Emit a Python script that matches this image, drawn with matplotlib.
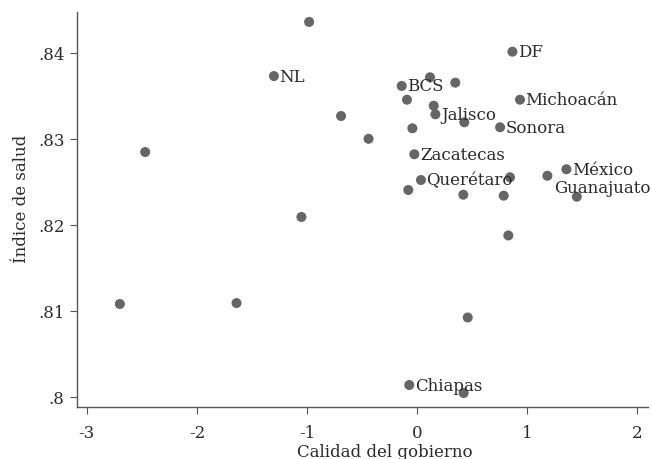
import matplotlib
matplotlib.use("Agg")
import matplotlib.pyplot as plt

# Calidad del gobierno vs. índice de salud por entidad federativa
calidad = [-0.98, -1.30, -0.69, -0.44, -2.47, -1.05, -2.70, -1.64,
           0.867, 0.118, 0.348, -0.139, -0.091, 0.936, 0.152, 0.167,
           0.430, 0.755, -0.042, -0.024, 1.358, 1.185, 0.036, 0.845,
           -0.079, 0.421, 0.788, 1.452, 0.830, 0.461, -0.070, 0.424]
salud = [0.8436, 0.8373, 0.83265, 0.8300, 0.82846, 0.8209, 0.81077, 0.81088,
         0.84014, 0.83716, 0.83653, 0.83615, 0.83455, 0.83455, 0.83385, 0.83285,
         0.83192, 0.83134, 0.83122, 0.8282, 0.82645, 0.8257, 0.8252, 0.82552,
         0.82404, 0.82349, 0.82338, 0.82326, 0.81875, 0.8092, 0.80134, 0.80041]
etiquetas = ["", "NL", "", "", "", "", "", "",
             "DF", "", "", "BCS", "", "Michoacán", "", "Jalisco",
             "", "Sonora", "", "Zacatecas", "México", "Guanajuato", "Querétaro", "",
             "", "", "", "", "", "", "Chiapas", ""]
# Guanajuato va abajo a la derecha, el resto a la derecha del punto
abajo = {"Guanajuato"}

xticks = [-3, -2, -1, 0, 1, 2]
yticks = [0.80, 0.81, 0.82, 0.83, 0.84]
ytick_labels = [".8", ".81", ".82", ".83", ".84"]

plt.rcParams["font.family"] = ["DejaVu Serif"]
tam = 12
texto = "#2a2a2a"

fig = plt.figure(figsize=(6.52, 4.6), dpi=100)
ax = fig.add_axes([0.118, 0.113, 0.876, 0.859])

gris = "#666666"
ax.scatter(calidad, salud, s=52, color=gris, edgecolors="none", zorder=3)

for x, y, t in zip(calidad, salud, etiquetas):
    if not t:
        continue
    if t in abajo:
        ax.annotate(t, (x, y), xytext=(5, -2), textcoords="offset points",
                    ha="left", va="top", color=texto, fontsize=tam)
    else:
        ax.annotate(t, (x, y), xytext=(4, 0), textcoords="offset points",
                    ha="left", va="center", color=texto, fontsize=tam)

ax.set_xlim(-3.09, 2.1)
ax.set_ylim(0.79878, 0.84477)
ax.set_xticks(xticks)
ax.set_xticklabels([str(v) for v in xticks])
ax.set_yticks(yticks)
ax.set_yticklabels(ytick_labels)

for lado in ["top", "right"]:
    ax.spines[lado].set_visible(False)
for lado in ["left", "bottom"]:
    ax.spines[lado].set_color("#555555")
    ax.spines[lado].set_linewidth(1.0)
ax.tick_params(direction="out", length=5, width=0.8, color="#555555",
               labelcolor=texto, labelsize=tam)
ax.tick_params(axis="x", pad=7)
ax.tick_params(axis="y", pad=4)

ax.set_xlabel("Calidad del gobierno", color=texto, fontsize=tam)
ax.set_ylabel("Índice de salud", color=texto, fontsize=tam)
ax.xaxis.set_label_coords(0.539, -0.092)
ax.yaxis.set_label_coords(-0.082, 0.529)

fig.savefig("out.png", dpi=100)
